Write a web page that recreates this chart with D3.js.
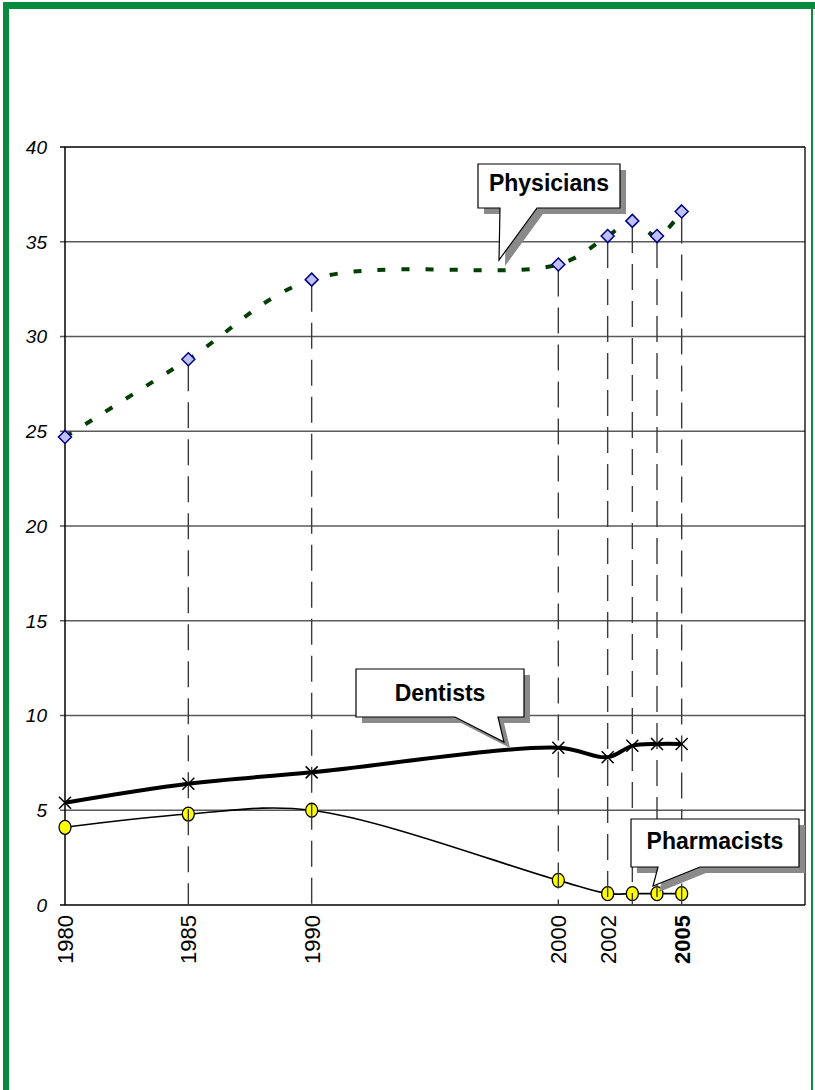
<!DOCTYPE html>
<html><head><meta charset="utf-8">
<script src="https://cdn.jsdelivr.net/npm/d3@7"></script>
<style>html,body{margin:0;padding:0;background:#fff;}svg{display:block;}</style>
</head><body>
<svg id="c" width="815" height="1090"></svg>
<script>
const years = [1980, 1985, 1990, 2000, 2002, 2003, 2004, 2005];
const physicians = [24.7, 28.8, 33.0, 33.8, 35.3, 36.1, 35.3, 36.6];
const dentists = [5.4, 6.4, 7.0, 8.3, 7.8, 8.4, 8.5, 8.5];
const pharmacists = [4.1, 4.8, 5.0, 1.3, 0.6, 0.6, 0.6, 0.6];
const yTicks = [0, 5, 10, 15, 20, 25, 30, 35, 40];
const xTickLabels = [1980, 1985, 1990, 2000, 2002, 2005];
const boldLabel = 2005;
const calloutTexts = ["Physicians", "Dentists", "Pharmacists"];

const svg = d3.select("#c");
const green = "#0a8a3c";
const font = "'Liberation Sans', Arial, sans-serif";
// frame
svg.append("rect").attr("x",3).attr("y",2).attr("width",812).attr("height",7).attr("fill",green);
svg.append("rect").attr("x",3).attr("y",2).attr("width",6).attr("height",1088).attr("fill",green);
svg.append("rect").attr("x",811).attr("y",2).attr("width",2).attr("height",1088).attr("fill",green);

const x = d3.scaleLinear().domain([1980, 2010]).range([65, 805]);
const y = d3.scaleLinear().domain([0, 40]).range([905, 147]);

// gridlines
const g = svg.append("g");
g.selectAll("line.grid").data(yTicks.filter(v => v > 0 && v < 40)).join("line")
  .attr("x1", x(1980) - 5).attr("x2", x(2010)).attr("y1", d => y(d)).attr("y2", d => y(d))
  .attr("stroke", "#5a5a5a").attr("stroke-width", 1.3);
g.append("line").attr("x1", x(1980)-5).attr("x2", x(2010)).attr("y1", y(40)).attr("y2", y(40)).attr("stroke","#000").attr("stroke-width",1.3);
g.append("line").attr("x1", x(2010)).attr("x2", x(2010)).attr("y1", y(40)).attr("y2", y(0)).attr("stroke","#000").attr("stroke-width",1.3);
g.append("line").attr("x1", x(1980)-5).attr("x2", x(2010)).attr("y1", y(0)).attr("y2", y(0)).attr("stroke","#000").attr("stroke-width",1.5);
g.append("line").attr("x1", x(1980)).attr("x2", x(1980)).attr("y1", y(40)).attr("y2", y(0)).attr("stroke","#000").attr("stroke-width",1.5);

// y labels
svg.append("g").selectAll("text").data(yTicks).join("text")
  .attr("x", 47).attr("y", d => y(d)).attr("dy", "0.36em")
  .attr("text-anchor", "end").attr("font-family", font)
  .attr("font-style", "italic").attr("font-size", 19).attr("fill", "#000").text(d => d);

// x labels
svg.append("g").selectAll("text").data(xTickLabels).join("text")
  .attr("transform", d => `translate(${x(d)},915) rotate(-90)`)
  .attr("dy", "0.36em").attr("text-anchor", "end")
  .attr("font-family", font)
  .attr("font-size", 22).attr("font-weight", d => d === boldLabel ? "bold" : "normal")
  .attr("fill", "#000").text(d => d);

const curve = d3.curveCatmullRom.alpha(0.5);
const mk = arr => d3.line().x((d,i) => x(years[i])).y(d => y(d)).curve(curve)(arr);

// lines
svg.append("path").attr("d", mk(physicians)).attr("fill","none").attr("stroke","#003f00")
  .attr("stroke-width",4).attr("stroke-dasharray","8,16");
svg.append("path").attr("d", mk(dentists)).attr("fill","none").attr("stroke","#000").attr("stroke-width",4);
svg.append("path").attr("d", mk(pharmacists)).attr("fill","none").attr("stroke","#000").attr("stroke-width",1.6);

// pharmacists markers
svg.append("g").selectAll("ellipse").data(pharmacists).join("ellipse")
  .attr("cx", (d,i) => x(years[i])).attr("cy", d => y(d)).attr("rx", 6).attr("ry", 7)
  .attr("fill", "#ffff00").attr("stroke", "#000").attr("stroke-width", 1.3);

// drop lines
svg.append("g").selectAll("line").data(years.slice(1)).join("line")
  .attr("x1", d => x(d)).attr("x2", d => x(d))
  .attr("y1", (d,i) => y(physicians[i+1]) + 6).attr("y2", y(0))
  .attr("stroke", "#3a3a3a").attr("stroke-width", 1.4).attr("stroke-dasharray", "26,11");

// dentists markers
svg.append("g").selectAll("path").data(dentists).join("path")
  .attr("d", (d,i) => { const cx = x(years[i]), cy = y(d), r = 6;
    return `M${cx-r},${cy-r}L${cx+r},${cy+r}M${cx-r},${cy+r}L${cx+r},${cy-r}`; })
  .attr("stroke", "#000").attr("stroke-width", 1.5).attr("fill", "none");

// physicians markers
svg.append("g").selectAll("path").data(physicians).join("path")
  .attr("d", (d,i) => { const cx = x(years[i]), cy = y(d), r = 6.5;
    return `M${cx},${cy-r}L${cx+r},${cy}L${cx},${cy+r}L${cx-r},${cy}Z`; })
  .attr("fill", "#c0c0f8").attr("stroke", "#000080").attr("stroke-width", 1.5);

// callouts
const callouts = [
  {text: calloutTexts[0], path: "M478,164H620V208H537L499,260L500,208H478Z", tx: 549, ty: 191},
  {text: calloutTexts[1], path: "M356,669H524V717H498L504,742L455,717H356Z", tx: 440, ty: 701},
  {text: calloutTexts[2], path: "M631,819H799V867H700L653,886L658,867H631Z", tx: 715, ty: 849}
];
const cg = svg.append("g").selectAll("g").data(callouts).join("g");
cg.append("path").attr("d", d => d.path).attr("transform","translate(6,6)").attr("fill","#8a8a8a");
cg.append("path").attr("d", d => d.path).attr("fill","#fff").attr("stroke","#000").attr("stroke-width",1.2);
cg.append("text").attr("x", d => d.tx).attr("y", d => d.ty).attr("text-anchor","middle")
  .attr("font-family", font).attr("font-weight","bold")
  .attr("font-size",23).attr("fill","#000").text(d => d.text);
</script>
</body></html>
